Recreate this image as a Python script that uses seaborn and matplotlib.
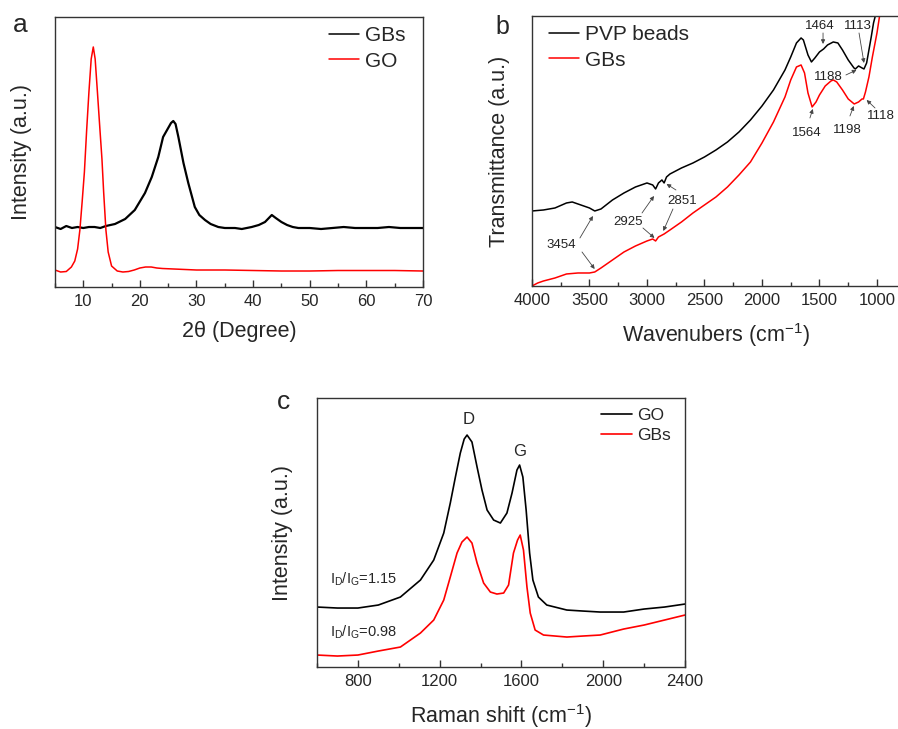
# XRD / FTIR / Raman 三联图
import matplotlib
matplotlib.use('Agg')
import matplotlib.pyplot as plt
from matplotlib.ticker import MultipleLocator
import seaborn as sns

# ---- (a) XRD ----
xrd_theta_gbs = [5, 6, 7, 8, 9, 10, 11, 12, 13, 14, 15.6, 17.4, 19.1, 20.9, 22.1, 23.25, 24.1,
                 25.0, 25.5, 25.9, 26.3, 26.8, 27.7, 28.55, 29.7, 30.5, 31.5, 32.5, 33.85, 35,
                 36.8, 38, 39.75, 41, 42.1, 43.3, 44, 45, 46, 47, 48, 50, 52, 54, 56, 58, 60,
                 62, 64, 66, 68, 70]
xrd_int_gbs = [60, 58, 61, 59, 60, 59, 60, 60, 59, 61, 63, 68, 77, 94, 110, 130, 150,
               159, 164, 166, 163, 150, 124, 104, 80, 72, 67, 63, 60, 59,
               59, 58, 60, 62, 65, 72, 69, 65, 62, 60, 59, 59, 58, 59, 60, 59, 59,
               59, 60, 59, 59, 59]
xrd_theta_go = [5, 6, 7, 7.9, 8.5, 9, 9.4, 9.8, 10.2, 10.6, 11.0, 11.4, 11.77, 12.1, 12.5,
                12.95, 13.3, 13.6, 14.0, 14.4, 15, 16, 17, 18, 19, 20, 21, 22, 23, 24, 26,
                28, 30, 35, 40, 45, 50, 55, 60, 65, 70]
xrd_int_go = [17, 15, 15.5, 20, 26, 38, 57, 85, 115, 157, 195, 228, 240, 228, 195,
              157, 128, 95, 57, 35, 21, 16, 15, 15.5, 17, 19, 20, 20, 19, 18.5, 18,
              17.5, 17, 17, 16.5, 16, 16, 16.5, 16.5, 16.5, 16]

# ---- (b) FTIR ----
ir_wn_pvp = [4000, 3900, 3800, 3700, 3650, 3600, 3500, 3454, 3400, 3300, 3200, 3100, 3000,
             2950, 2925, 2900, 2870, 2851, 2830, 2800, 2700, 2600, 2500, 2400, 2300, 2200,
             2100, 2000, 1900, 1800, 1750, 1700, 1660, 1640, 1600, 1570, 1540, 1500, 1464,
             1430, 1380, 1340, 1300, 1250, 1200, 1188, 1160, 1130, 1113, 1090, 1070, 1050,
             1030, 1010, 990]
ir_t_pvp = [75, 76, 78, 83, 84, 82, 78, 75, 77, 86, 93, 99, 103,
            101, 97, 103, 106, 103, 109, 112, 118, 123, 129, 136, 144, 154,
            166, 180, 196, 216, 229, 243, 248, 246, 231, 224, 228, 234, 237,
            241, 244, 243, 236, 226, 218, 217, 220, 218, 217, 223, 236, 249,
            263, 272, 288]
ir_wn_gbs = [4000, 3950, 3900, 3800, 3700, 3600, 3500, 3454, 3400, 3300, 3200, 3100, 3000,
             2950, 2925, 2900, 2851, 2800, 2700, 2600, 2500, 2400, 2300, 2200, 2100, 2000,
             1900, 1800, 1750, 1700, 1660, 1630, 1600, 1564, 1530, 1500, 1450, 1400, 1380,
             1350, 1300, 1250, 1198, 1160, 1130, 1118, 1100, 1070, 1040, 1000, 980, 960]
ir_t_gbs = [0, 3, 5, 8, 12, 13, 13, 14, 18, 26, 34, 40, 45,
            47, 45, 49, 52, 56, 64, 73, 81, 89, 99, 111, 124, 143,
            164, 189, 206, 219, 221, 213, 193, 179, 184, 191, 200, 205, 206,
            204, 196, 187, 182, 184, 187, 187, 194, 209, 229, 253, 268, 283]
ir_peak_labels = ['1464', '1113', '1188', '1564', '1198', '1118', '3454', '2925', '2851']

# ---- (c) Raman ----
raman_shift_go = [600, 700, 800, 900, 1008, 1106, 1171, 1220, 1252, 1277, 1301, 1320, 1334,
                  1358, 1383, 1407, 1432, 1464, 1497, 1529, 1554, 1578, 1591, 1607, 1623,
                  1640, 1656, 1683, 1724, 1822, 1900, 1985, 2100, 2200, 2300, 2400]
raman_int_go = [60, 59, 59, 62, 70, 87, 107, 134, 164, 190, 214, 228, 232,
                225, 200, 177, 157, 147, 144, 154, 174, 197, 202, 190, 157,
                114, 87, 70, 62, 57, 56, 55, 55, 58, 60, 63]
raman_shift_gbs = [600, 700, 800, 900, 1008, 1106, 1171, 1220, 1252, 1285, 1309, 1334, 1358,
                   1383, 1415, 1448, 1480, 1513, 1537, 1561, 1581, 1594, 1610, 1627, 1643,
                   1667, 1708, 1822, 1900, 1985, 2100, 2200, 2300, 2400]
raman_int_gbs = [12, 11, 12, 16, 20, 34, 47, 67, 90, 114, 125, 130, 124,
                 104, 84, 75, 73, 74, 82, 114, 127, 132, 117, 80, 54,
                 37, 32, 30, 31, 32, 38, 42, 47, 52]
ratio_labels = ['1.15', '0.98']

sns.set_style('ticks')
plt.rcParams['font.family'] = ['Liberation Sans', 'DejaVu Sans']
plt.rcParams['mathtext.fontset'] = 'custom'
plt.rcParams['mathtext.rm'] = 'Liberation Sans'
plt.rcParams['mathtext.it'] = 'Liberation Sans:italic'

EDGE = '#333333'
RED = '#ff0000'

fig = plt.figure(figsize=(8.98, 7.29), dpi=100)


def style_axes(ax, xlim, ylim, major, minor, xlabel, ylabel, ylab_x, xlab_y):
    ax.set_xlim(*xlim)
    ax.set_ylim(*ylim)
    ax.set_yticks([])
    ax.xaxis.set_major_locator(MultipleLocator(major))
    ax.xaxis.set_minor_locator(MultipleLocator(minor))
    ax.tick_params(axis='x', which='major', direction='in', length=5, width=1,
                   labelsize=12, pad=5, color=EDGE, top=False)
    ax.tick_params(axis='x', which='minor', direction='in', length=3, width=1,
                   color=EDGE, top=False)
    for sp in ax.spines.values():
        sp.set_linewidth(1)
        sp.set_color(EDGE)
    ax.set_xlabel(xlabel, fontsize=15.5, va='top')
    ax.set_ylabel(ylabel, fontsize=15.5)
    ax.xaxis.set_label_coords(0.5, xlab_y)
    ax.yaxis.set_label_coords(ylab_x, 0.5)


# (a)
ax_a = fig.add_axes([0.0612, 0.6063, 0.4098, 0.3704])
sns.lineplot(x=xrd_theta_gbs, y=xrd_int_gbs, color='black', lw=1.6, label='GBs', ax=ax_a)
sns.lineplot(x=xrd_theta_go, y=xrd_int_go, color=RED, lw=1.1, label='GO', ax=ax_a)
style_axes(ax_a, (5, 70), (0, 270), 10, 5, '2θ (Degree)', 'Intensity (a.u.)', -0.062, -0.125)
leg = ax_a.legend(loc='upper left', bbox_to_anchor=(0.745, 0.965), frameon=False, fontsize=15,
                  handlelength=1.45, handletextpad=0.25, labelspacing=0.3, borderpad=0,
                  borderaxespad=0)
for h in leg.get_lines():
    h.set_linewidth(1.1)

# (b)
ax_b = fig.add_axes([0.5924, 0.6077, 0.4098, 0.3704])
sns.lineplot(x=ir_wn_pvp, y=ir_t_pvp, color='black', lw=1.1, label='PVP beads', ax=ax_b)
sns.lineplot(x=ir_wn_gbs, y=ir_t_gbs, color=RED, lw=1.1, label='GBs', ax=ax_b)
style_axes(ax_b, (4000, 800), (0, 270), 500, 250, 'Wavenubers (cm$^{-1}$)',
           'Transmittance (a.u.)', -0.06, -0.13)
ax_b.legend(loc='upper left', bbox_to_anchor=(0.045, 0.965), frameon=False, fontsize=15,
            handlelength=1.45, handletextpad=0.3, labelspacing=0.3, borderpad=0, borderaxespad=0)

arrow = dict(arrowstyle='-|>', lw=0.6, color='#444444', mutation_scale=6, shrinkA=0, shrinkB=0)
# text position, then arrows (tail, tip)
ann = [
    ((1496, 260), [((1469, 253), (1469, 242))]),
    ((1165, 260), [((1156, 253), (1113, 223))]),
    ((1426, 209), [((1270, 211), (1178, 216))]),
    ((1609, 153), [((1583, 168), (1558, 177))]),
    ((1261, 156), [((1235, 170), (1202, 180))]),
    ((965, 170), [((1017, 178), (1090, 186))]),
    ((3748, 41), [((3583, 48), (3470, 70)), ((3565, 34), (3455, 17))]),
    ((3165, 64), [((3043, 73), (2939, 90)), ((3035, 58), (2935, 48))]),
    ((2696, 85), [((2748, 96), (2830, 102)), ((2774, 77), (2858, 55))]),
]
for lab, (pos, arrows) in zip(ir_peak_labels, ann):
    ax_b.text(pos[0], pos[1], lab, fontsize=9.5, ha='center', va='center', color='#222222')
    for tail, tip in arrows:
        ax_b.annotate('', xy=tip, xytext=tail, arrowprops=arrow)

# (c)
ax_c = fig.add_axes([0.3530, 0.0850, 0.4098, 0.3690])
sns.lineplot(x=raman_shift_go, y=raman_int_go, color='black', lw=1.2, label='GO', ax=ax_c)
sns.lineplot(x=raman_shift_gbs, y=raman_int_gbs, color=RED, lw=1.2, label='GBs', ax=ax_c)
style_axes(ax_c, (600, 2400), (0, 269), 400, 200, 'Raman shift (cm$^{-1}$)',
           'Intensity (a.u.)', -0.065, -0.13)
ax_c.legend(loc='upper left', bbox_to_anchor=(0.772, 0.962), frameon=False, fontsize=12.5,
            handlelength=1.8, handletextpad=0.25, labelspacing=0.25, borderpad=0, borderaxespad=0)
ax_c.text(1340, 248, 'D', fontsize=12, ha='center', va='center')
ax_c.text(1589, 216, 'G', fontsize=12, ha='center', va='center')
ax_c.text(666, 88, r'$\mathregular{I_D/I_G}$=' + ratio_labels[0], fontsize=10.5, ha='left', va='center')
ax_c.text(666, 35, r'$\mathregular{I_D/I_G}$=' + ratio_labels[1], fontsize=10.5, ha='left', va='center')

# panel letters
fig.text(20 / 898, 1 - 25 / 729, 'a', fontsize=19, ha='center', va='center')
fig.text(502 / 898, 1 - 27 / 729, 'b', fontsize=18, ha='center', va='center')
fig.text(284 / 898, 1 - 402 / 729, 'c', fontsize=19, ha='center', va='center')

fig.savefig('out.png', dpi=100)
plt.close(fig)
